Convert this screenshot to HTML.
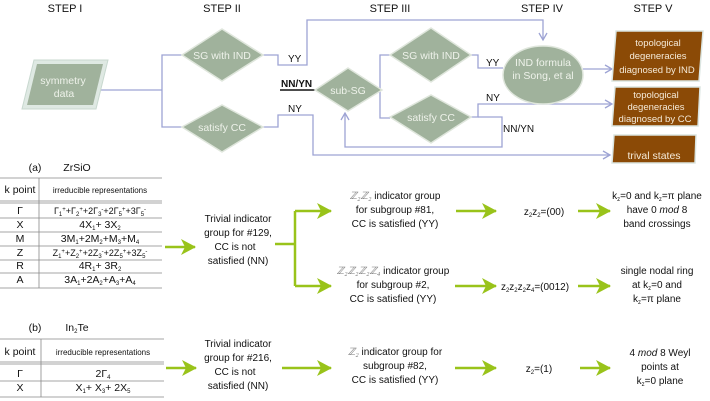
<!DOCTYPE html>
<html><head><meta charset="utf-8"><style>
html,body{margin:0;padding:0;background:#fff;width:710px;height:401px;overflow:hidden}
text{font-family:"Liberation Sans",sans-serif}
</style></head><body>
<svg width="710" height="401" viewBox="0 0 710 401" xmlns="http://www.w3.org/2000/svg">
<defs>
<marker id="ba" markerWidth="10" markerHeight="10" refX="8" refY="5" orient="auto" markerUnits="userSpaceOnUse"><path d="M1,1 L8,5 L1,9" fill="none" stroke="#9da3d4" stroke-width="1.3"/></marker>
<marker id="ga" markerWidth="16" markerHeight="16" refX="14" refY="8" orient="auto" markerUnits="userSpaceOnUse"><path d="M0,0 L15,8 L0,16 L4,8 Z" fill="#99c31a"/></marker>
</defs>
<g font-size="11" fill="#111" text-anchor="middle">
<text x="65" y="12">STEP I</text><text x="222" y="12">STEP II</text><text x="390" y="12">STEP III</text><text x="542" y="12">STEP IV</text><text x="653" y="12">STEP V</text>
</g>
<g fill="none" stroke="#9da3d4" stroke-width="1.3">
<polyline points="98,90 162,90"/>
<polyline points="182,55 162,55 162,127 182,127"/>
<polyline points="263,55 278,55 278,65 307,65 307,20 543,20 543,40" marker-end="url(#ba)"/>
<polyline points="263,127 278,127 278,115 313,115 313,155 610,155" marker-end="url(#ba)"/>
<polyline points="382,90 380,90"/>
<polyline points="390,55 380,55 380,118 390,118"/>
<polyline points="471,55 478,55 478,68 503,68"/>
<polyline points="471,117 478,117 478,104 612,104" marker-end="url(#ba)"/>
<polyline points="478,117 502,117 502,147 345,147 345,113" marker-end="url(#ba)"/>
<polyline points="583,69 612,69" marker-end="url(#ba)"/>
</g>
<line x1="280" y1="90" x2="316" y2="90" stroke="#111" stroke-width="1.6"/>
<g font-size="10" fill="#111">
<text x="288" y="62">YY</text><text x="281" y="87" font-weight="bold">NN/YN</text><text x="288" y="112">NY</text>
<text x="486" y="66">YY</text><text x="486" y="101">NY</text><text x="503" y="132">NN/YN</text>
</g>
<polygon points="34,60 108,60 96,109 22,109" fill="#dfe9e3" stroke="#c8d8cf"/>
<polygon points="37,64 103,64 93,105 27,105" fill="#a0b29c"/>
<g font-size="10.5" fill="#eef2ea" text-anchor="middle"><text x="63" y="84">symmetry</text><text x="64" y="97">data</text></g>
<g fill="#a0b29c" stroke="#dfe6dc" stroke-width="1.5">
<polygon points="182,55 222,29 263,55 222,81"/>
<polygon points="182,127 222,105 263,127 222,152"/>
<polygon points="315,90 348,68 382,90 348,111"/>
<polygon points="390,55 431,28 471,55 431,82"/>
<polygon points="390,117 431,95 471,117 431,143"/>
<ellipse cx="543" cy="75" rx="40" ry="29"/>
</g>
<g font-size="10.5" fill="#eef2ea" text-anchor="middle">
<text x="222" y="59">SG with IND</text><text x="222" y="131">satisfy CC</text><text x="348" y="94">sub-SG</text>
<text x="431" y="59">SG with IND</text><text x="431" y="121">satisfy CC</text>
<text x="543" y="66">IND formula</text><text x="543" y="79">in Song, et al</text>
</g>
<g stroke="#dbe5e1" stroke-width="1.5" fill="#8b4a06">
<polygon points="616,31 703,31 699,81 612,81"/>
<polygon points="615,87 700,87 698,126 612,126"/>
<polygon points="614,135 696,135 695,163 612,163"/>
</g>
<g font-size="9.5" fill="#f5ead8" text-anchor="middle">
<text x="658" y="46">topological</text><text x="658" y="59">degeneracies</text><text x="657" y="73">diagnosed by IND</text>
<text x="656" y="98">topological</text><text x="656" y="110">degeneracies</text><text x="655" y="122">diagnosed by CC</text>
<text x="654" y="159" font-size="10.5">trival states</text>
</g>
<g font-size="10.5" fill="#111" text-anchor="middle">
<text x="35" y="171">(a)</text><text x="77" y="171">ZrSiO</text>
<text x="20" y="193">k point</text><text x="100" y="193" font-size="8">irreducible representations</text>
<text x="20" y="214">Γ</text><text x="100" y="214" font-size="9">Γ<tspan font-size="6" dy="2">1</tspan><tspan font-size="6" dy="-5">+</tspan><tspan dy="3">+Γ</tspan><tspan font-size="6" dy="2">2</tspan><tspan font-size="6" dy="-5">+</tspan><tspan dy="3">+2Γ</tspan><tspan font-size="6" dy="2">3</tspan><tspan font-size="6" dy="-5">-</tspan><tspan dy="3">+2Γ</tspan><tspan font-size="6" dy="2">5</tspan><tspan font-size="6" dy="-5">+</tspan><tspan dy="3">+3Γ</tspan><tspan font-size="6" dy="2">5</tspan><tspan font-size="6" dy="-5">-</tspan></text>
<text x="20" y="228">X</text><text x="100" y="228">4X<tspan font-size="6" dy="2">1</tspan><tspan dy="-2">+ 3X</tspan><tspan font-size="6" dy="2">2</tspan></text>
<text x="20" y="242">M</text><text x="100" y="242">3M<tspan font-size="6" dy="2">1</tspan><tspan dy="-2">+2M</tspan><tspan font-size="6" dy="2">2</tspan><tspan dy="-2">+M</tspan><tspan font-size="6" dy="2">3</tspan><tspan dy="-2">+M</tspan><tspan font-size="6" dy="2">4</tspan></text>
<text x="20" y="256">Z</text><text x="100" y="256" font-size="9">Z<tspan font-size="6" dy="2">1</tspan><tspan font-size="6" dy="-5">+</tspan><tspan dy="3">+Z</tspan><tspan font-size="6" dy="2">2</tspan><tspan font-size="6" dy="-5">+</tspan><tspan dy="3">+2Z</tspan><tspan font-size="6" dy="2">3</tspan><tspan font-size="6" dy="-5">-</tspan><tspan dy="3">+2Z</tspan><tspan font-size="6" dy="2">5</tspan><tspan font-size="6" dy="-5">+</tspan><tspan dy="3">+3Z</tspan><tspan font-size="6" dy="2">5</tspan><tspan font-size="6" dy="-5">-</tspan></text>
<text x="20" y="269">R</text><text x="100" y="269">4R<tspan font-size="6" dy="2">1</tspan><tspan dy="-2">+ 3R</tspan><tspan font-size="6" dy="2">2</tspan></text>
<text x="20" y="283">A</text><text x="100" y="283">3A<tspan font-size="6" dy="2">1</tspan><tspan dy="-2">+2A</tspan><tspan font-size="6" dy="2">2</tspan><tspan dy="-2">+A</tspan><tspan font-size="6" dy="2">3</tspan><tspan dy="-2">+A</tspan><tspan font-size="6" dy="2">4</tspan></text>
<text x="35" y="331">(b)</text><text x="77" y="331">In<tspan font-size="6" dy="2">2</tspan><tspan dy="-2">Te</tspan></text>
<text x="20" y="355">k point</text><text x="103" y="355" font-size="8">irreducible representations</text>
<text x="20" y="377">Γ</text><text x="103" y="377">2Γ<tspan font-size="6" dy="2">4</tspan></text>
<text x="20" y="391">X</text><text x="103" y="391">X<tspan font-size="6" dy="2">1</tspan><tspan dy="-2">+ X</tspan><tspan font-size="6" dy="2">3</tspan><tspan dy="-2">+ 2X</tspan><tspan font-size="6" dy="2">5</tspan></text>
</g>
<g stroke="#888" stroke-width="0.8">
<line x1="0" y1="178" x2="162" y2="178"/>
<line x1="0" y1="201" x2="162" y2="201"/><line x1="0" y1="203" x2="162" y2="203"/>
<line x1="0" y1="218" x2="162" y2="218"/><line x1="0" y1="232" x2="162" y2="232"/>
<line x1="0" y1="246" x2="162" y2="246"/><line x1="0" y1="260" x2="162" y2="260"/>
<line x1="0" y1="273" x2="162" y2="273"/><line x1="0" y1="288" x2="162" y2="288"/>
<line x1="39" y1="178" x2="39" y2="288"/>
<line x1="0" y1="339" x2="164" y2="339"/>
<line x1="0" y1="362" x2="164" y2="362"/><line x1="0" y1="364" x2="164" y2="364"/>
<line x1="0" y1="381" x2="164" y2="381"/><line x1="0" y1="397" x2="164" y2="397"/>
<line x1="41" y1="339" x2="41" y2="397"/>
</g>
<g stroke="#99c31a" stroke-width="2.5" fill="none">
<line x1="165" y1="247" x2="195" y2="247" marker-end="url(#ga)"/>
<polyline points="275,244 295,244"/>
<polyline points="295,211 295,286"/>
<line x1="295" y1="211" x2="331" y2="211" marker-end="url(#ga)"/>
<line x1="295" y1="286" x2="331" y2="286" marker-end="url(#ga)"/>
<line x1="456" y1="211" x2="496" y2="211" marker-end="url(#ga)"/>
<line x1="455" y1="286" x2="496" y2="286" marker-end="url(#ga)"/>
<line x1="578" y1="211" x2="610" y2="211" marker-end="url(#ga)"/>
<line x1="578" y1="286" x2="610" y2="286" marker-end="url(#ga)"/>
<line x1="166" y1="368" x2="196" y2="368" marker-end="url(#ga)"/>
<line x1="282" y1="368" x2="331" y2="368" marker-end="url(#ga)"/>
<line x1="455" y1="368" x2="496" y2="368" marker-end="url(#ga)"/>
<line x1="580" y1="368" x2="610" y2="368" marker-end="url(#ga)"/>
</g>
<g font-size="10" fill="#111" text-anchor="middle">
<text x="238" y="222">Trivial indicator</text><text x="238" y="236">group for #129,</text><text x="235" y="250">CC is not</text><text x="238" y="264">satisfied (NN)</text>
<text x="238" y="347">Trivial indicator</text><text x="238" y="361">group for #216,</text><text x="235" y="375">CC is not</text><text x="238" y="389">satisfied (NN)</text>
<text x="395" y="199"><tspan font-family="Liberation Serif" font-style="italic" fill="#777">ℤ₂ℤ₂</tspan> indicator group</text><text x="395" y="213">for subgroup #81,</text><text x="395" y="227">CC is satisfied (YY)</text>
<text x="393" y="274"><tspan font-family="Liberation Serif" font-style="italic" fill="#777">ℤ₂ℤ₂ℤ₂ℤ₄</tspan>  indicator group</text><text x="393" y="288">for subgroup #2,</text><text x="393" y="302">CC is satisfied (YY)</text>
<text x="395" y="355"><tspan font-family="Liberation Serif" font-style="italic" fill="#777">ℤ₂</tspan>  indicator group for</text><text x="395" y="369">subgroup #82,</text><text x="395" y="383">CC is satisfied (YY)</text>
<text x="544" y="215">z<tspan font-size="6" dy="2">2</tspan><tspan dy="-2">z</tspan><tspan font-size="6" dy="2">2</tspan><tspan dy="-2">=(00)</tspan></text>
<text x="535" y="290">z<tspan font-size="6" dy="2">2</tspan><tspan dy="-2">z</tspan><tspan font-size="6" dy="2">2</tspan><tspan dy="-2">z</tspan><tspan font-size="6" dy="2">2</tspan><tspan dy="-2">z</tspan><tspan font-size="6" dy="2">4</tspan><tspan dy="-2">=(0012)</tspan></text>
<text x="539" y="372">z<tspan font-size="6" dy="2">2</tspan><tspan dy="-2">=(1)</tspan></text>
<text x="657" y="199">k<tspan font-size="6" dy="2">z</tspan><tspan dy="-2">=0 and k</tspan><tspan font-size="6" dy="2">z</tspan><tspan dy="-2">=π plane</tspan></text><text x="657" y="213">have 0 <tspan font-style="italic">mod</tspan> 8</text><text x="657" y="227">band crossings</text>
<text x="657" y="274">single nodal ring</text><text x="657" y="288">at k<tspan font-size="6" dy="2">z</tspan><tspan dy="-2">=0 and</tspan></text><text x="657" y="302">k<tspan font-size="6" dy="2">z</tspan><tspan dy="-2">=π plane</tspan></text>
<text x="660" y="356">4 <tspan font-style="italic">mod</tspan> 8 Weyl</text><text x="660" y="370">points at</text><text x="660" y="384">k<tspan font-size="6" dy="2">z</tspan><tspan dy="-2">=0 plane</tspan></text>
</g>
</svg>
</body></html>
